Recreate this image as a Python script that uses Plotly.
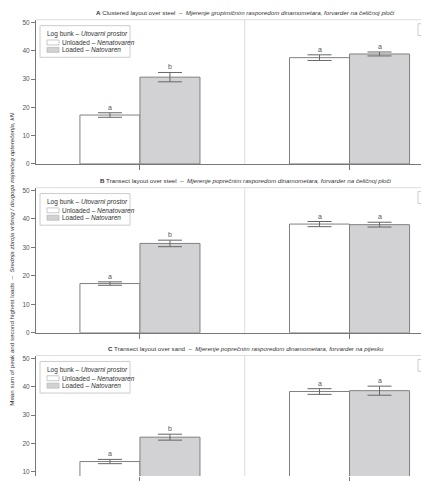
import plotly.graph_objects as go

W, H = 421, 481

# ---- data ----
categories = [0, 1]
panel_letters = ["A", "B", "C"]
panel_titles_en = ["Clustered layout over steel", "Transect layout over steel", "Transect layout over sand"]
panel_titles_hr = ["Mjerenje grupimičnim rasporedom dinamometara, forvarder na čeličnoj ploči",
                   "Mjerenje poprečnim rasporedom dinamometara, forvarder na čeličnoj ploči",
                   "Mjerenje poprečnim rasporedom dinamometara, forvarder na pijesku"]

unloaded_A = [17.3, 37.6]
unloaded_A_err = [0.8, 1.0]
loaded_A = [30.7, 38.9]
loaded_A_err = [1.65, 0.7]

unloaded_B = [17.3, 38.2]
unloaded_B_err = [0.6, 0.9]
loaded_B = [31.4, 38.0]
loaded_B_err = [1.15, 0.85]

unloaded_C = [13.6, 38.3]
unloaded_C_err = [0.75, 1.0]
loaded_C = [22.2, 38.6]
loaded_C_err = [1.05, 1.6]

letters_unloaded = ["a", "a"]
letters_loaded = ["b", "a"]

y_ticks = [0, 10, 20, 30, 40, 50]

unloaded = [unloaded_A, unloaded_B, unloaded_C]
unloaded_err = [unloaded_A_err, unloaded_B_err, unloaded_C_err]
loaded = [loaded_A, loaded_B, loaded_C]
loaded_err = [loaded_A_err, loaded_B_err, loaded_C_err]

# ---- style ----
FONT = "Liberation Sans, Arial"
TXT = "#333333"
AX = "#777777"
LIGHT = "#dddddd"
GRAY_FILL = "#d2d2d4"
BAR_LINE = "#808080"
ERR = "#666666"
BAR_W = 0.2864


def px(x):
    return x / W


def py(y):
    return 1 - y / H


# panel layout in pixels: (top px of plot, bottom px, y range)
panel_px = [(19.0, 165.0, [0, 51]), (189.0, 336.0, [0, 51]), (359.0, 481.0, [8.5, 51])]

fig = go.Figure()
shapes = []
annotations = []

for i in range(3):
    xa = "x" if i == 0 else f"x{i+1}"
    ya = "y" if i == 0 else f"y{i+1}"
    top, bot, yr = panel_px[i]
    fig.add_trace(go.Bar(
        x=categories, y=unloaded[i], xaxis=xa, yaxis=ya,
        width=BAR_W, offset=-BAR_W,
        marker=dict(color="white", line=dict(color=BAR_LINE, width=1)),
        error_y=dict(type="data", array=unloaded_err[i], color=ERR, thickness=1, width=12),
        showlegend=False, name="Unloaded"))
    fig.add_trace(go.Bar(
        x=categories, y=loaded[i], xaxis=xa, yaxis=ya,
        width=BAR_W, offset=0,
        marker=dict(color=GRAY_FILL, line=dict(color=BAR_LINE, width=1)),
        error_y=dict(type="data", array=loaded_err[i], color=ERR, thickness=1, width=12),
        showlegend=False, name="Loaded"))

    xkey = "xaxis" if i == 0 else f"xaxis{i+1}"
    ykey = "yaxis" if i == 0 else f"yaxis{i+1}"
    fig.layout[xkey] = dict(
        domain=[px(36), 1], range=[-0.496, 1.341], anchor=ya,
        tickvals=categories, showticklabels=False, ticks="outside", ticklen=5,
        tickcolor=AX, showline=(i < 2), linecolor=AX, linewidth=1,
        showgrid=False, zeroline=False, fixedrange=True)
    fig.layout[ykey] = dict(
        domain=[py(bot), py(top)], range=yr, anchor=xa,
        tickvals=y_ticks, ticks="outside", ticklen=4, tickcolor=AX,
        tickfont=dict(size=6.5, color="#555555", family=FONT),
        showline=True, linecolor=AX, linewidth=1,
        showgrid=False, zeroline=False, fixedrange=True)

    # divider and top frame line
    shapes.append(dict(type="line", xref=xa, yref=f"{ya} domain", x0=0.5, x1=0.5, y0=0, y1=1,
                       line=dict(color=LIGHT, width=1), layer="below"))
    shapes.append(dict(type="line", xref=f"{xa} domain", yref=f"{ya} domain", x0=0, x1=1, y0=1, y1=1,
                       line=dict(color=LIGHT, width=1), layer="below"))

    # significance letters
    for j, c in enumerate(categories):
        annotations.append(dict(x=c - BAR_W / 2, y=unloaded[i][j] + unloaded_err[i][j], xref=xa, yref=ya,
                                text=letters_unloaded[j], showarrow=False, yanchor="bottom", yshift=0,
                                font=dict(size=7, color="#555555", family=FONT)))
        annotations.append(dict(x=c + BAR_W / 2, y=loaded[i][j] + loaded_err[i][j], xref=xa, yref=ya,
                                text=letters_loaded[j], showarrow=False, yanchor="bottom", yshift=0,
                                font=dict(size=7, color="#555555", family=FONT)))

    # panel title
    annotations.append(dict(
        x=px(246), y=py(top - 7), xref="paper", yref="paper", xanchor="center", yanchor="middle",
        text=f"<b>{panel_letters[i]}</b> {panel_titles_en[i]}  –  <i>{panel_titles_hr[i]}</i>",
        showarrow=False, font=dict(size=6.2, color=TXT, family=FONT)))

    # manual legend
    shapes.append(dict(type="rect", xref="paper", yref="paper",
                       x0=px(40), x1=px(130), y0=py(top + 38), y1=py(top + 6),
                       line=dict(color="#cccccc", width=1), fillcolor="white"))
    shapes.append(dict(type="rect", xref="paper", yref="paper",
                       x0=px(47), x1=px(59), y0=py(top + 25.5), y1=py(top + 20.5),
                       line=dict(color="#bbbbbb", width=0.8), fillcolor="white"))
    shapes.append(dict(type="rect", xref="paper", yref="paper",
                       x0=px(47), x1=px(59), y0=py(top + 33), y1=py(top + 28),
                       line=dict(color="#bbbbbb", width=0.8), fillcolor=GRAY_FILL))
    annotations.append(dict(x=px(45), y=py(top + 14.5), xref="paper", yref="paper", xanchor="left",
                            yanchor="middle", text="Log bunk – <i>Utovarni prostor</i>", showarrow=False,
                            font=dict(size=6.5, color=TXT, family=FONT)))
    annotations.append(dict(x=px(60), y=py(top + 23), xref="paper", yref="paper", xanchor="left",
                            yanchor="middle", text="Unloaded – <i>Nenatovaren</i>", showarrow=False,
                            font=dict(size=6.5, color=TXT, family=FONT)))
    annotations.append(dict(x=px(60), y=py(top + 30.5), xref="paper", yref="paper", xanchor="left",
                            yanchor="middle", text="Loaded – <i>Natovaren</i>", showarrow=False,
                            font=dict(size=6.5, color=TXT, family=FONT)))
    # cropped box at right edge
    shapes.append(dict(type="rect", xref="paper", yref="paper",
                       x0=px(418), x1=px(426), y0=py(top + 16), y1=py(top + 4),
                       line=dict(color="#cccccc", width=1), fillcolor="white"))

annotations.append(dict(
    x=px(12), y=py(262), xref="paper", yref="paper", xanchor="center", yanchor="middle",
    textangle=-90, showarrow=False,
    text="Mean sum of peak and second highest loads  –  <i>Srednja zbroja vršnog / drugoga najvećeg opterećenja, kN</i>",
    font=dict(size=6.2, color=TXT, family=FONT)))

fig.update_layout(
    width=W, height=H, margin=dict(l=0, r=0, t=0, b=0),
    paper_bgcolor="white", plot_bgcolor="white",
    barmode="overlay", shapes=shapes, annotations=annotations,
    font=dict(family=FONT, color=TXT),
)

fig.write_html("out.html", config={"displayModeBar": False})
